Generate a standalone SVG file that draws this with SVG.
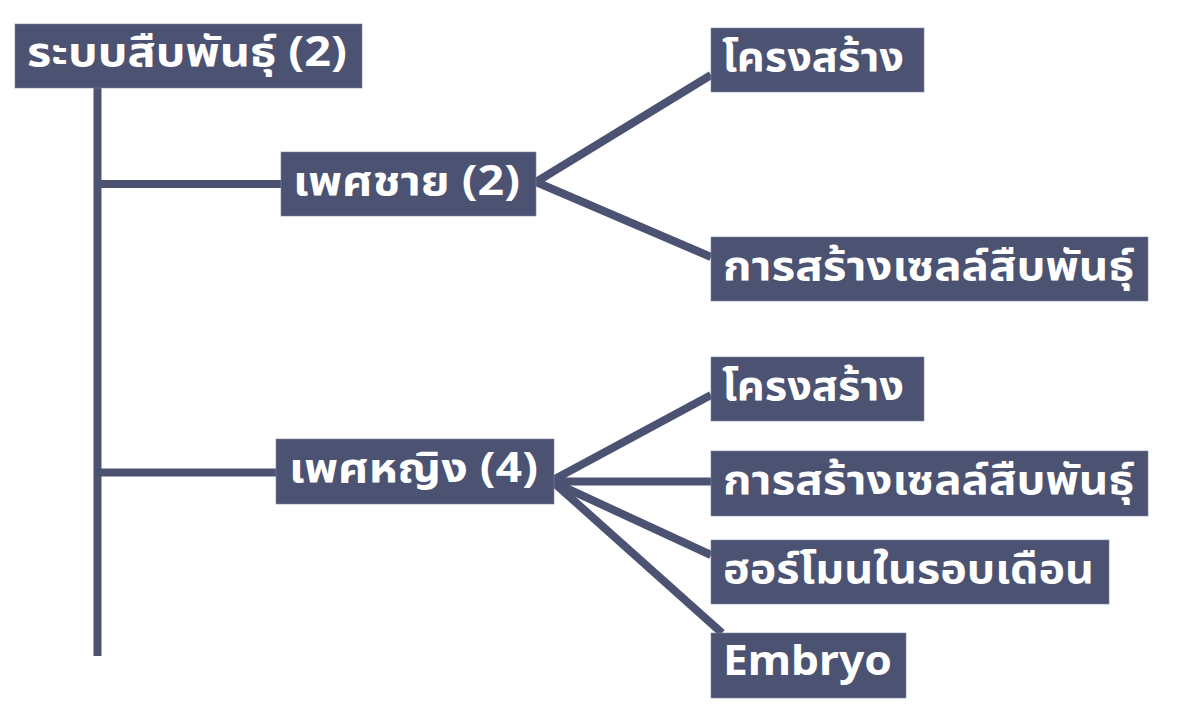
<svg xmlns="http://www.w3.org/2000/svg" width="1200" height="716" viewBox="0 0 1200 716">
<style>
.box{fill:#4B5272;stroke:#7d83a0;stroke-width:0.6;}
.lbl{fill:#ffffff;font-family:"Noto Sans","Noto Sans Thai","DejaVu Sans",sans-serif;font-weight:bold;font-size:41px;}
.con{stroke:#4B5272;stroke-width:8;fill:none;}
</style>
<rect width="1200" height="716" fill="#ffffff"/>
<g id="connectors">
<line class="con" x1="97.5" y1="88" x2="97.5" y2="656"/>
<line class="con" x1="97.5" y1="184" x2="281" y2="184"/>
<line class="con" x1="97.5" y1="472.5" x2="276" y2="472.5"/>
<line class="con" x1="536" y1="182" x2="711" y2="75"/>
<line class="con" x1="536" y1="182" x2="711" y2="257"/>
<line class="con" x1="553" y1="480" x2="711" y2="395"/>
<line class="con" x1="553" y1="481.5" x2="711" y2="481.5"/>
<line class="con" x1="553" y1="482" x2="711" y2="555"/>
<line class="con" x1="553" y1="482" x2="722" y2="633"/>
</g>
<g id="root"><rect class="box" x="15" y="24" width="347" height="64"/><text class="lbl" x="27" y="66" textLength="320" lengthAdjust="spacingAndGlyphs">ระบบสืบพันธุ์ (2)</text></g>
<g id="male"><rect class="box" x="281" y="152" width="255" height="64"/><text class="lbl" x="293" y="195" textLength="227" lengthAdjust="spacingAndGlyphs">เพศชาย (2)</text></g>
<g id="female"><rect class="box" x="276" y="439" width="278" height="65"/><text class="lbl" x="289" y="482" textLength="249" lengthAdjust="spacingAndGlyphs">เพศหญิง (4)</text></g>
<g id="male-structure"><rect class="box" x="711" y="28" width="213" height="64"/><text class="lbl" x="722" y="71" textLength="182" lengthAdjust="spacingAndGlyphs">โครงสร้าง</text></g>
<g id="male-gamete"><rect class="box" x="711" y="237" width="437" height="64"/><text class="lbl" x="723" y="280" textLength="411" lengthAdjust="spacingAndGlyphs">การสร้างเซลล์สืบพันธุ์</text></g>
<g id="female-structure"><rect class="box" x="711" y="357" width="213" height="64"/><text class="lbl" x="722" y="400" textLength="182" lengthAdjust="spacingAndGlyphs">โครงสร้าง</text></g>
<g id="female-gamete"><rect class="box" x="711" y="451" width="437" height="65"/><text class="lbl" x="723" y="494" textLength="411" lengthAdjust="spacingAndGlyphs">การสร้างเซลล์สืบพันธุ์</text></g>
<g id="hormone"><rect class="box" x="711" y="540" width="398" height="64"/><text class="lbl" x="723" y="583" textLength="371" lengthAdjust="spacingAndGlyphs">ฮอร์โมนในรอบเดือน</text></g>
<g id="embryo"><rect class="box" x="711" y="633" width="195" height="65"/><text class="lbl" x="723" y="675" textLength="169" lengthAdjust="spacingAndGlyphs">Embryo</text></g>
</svg>
